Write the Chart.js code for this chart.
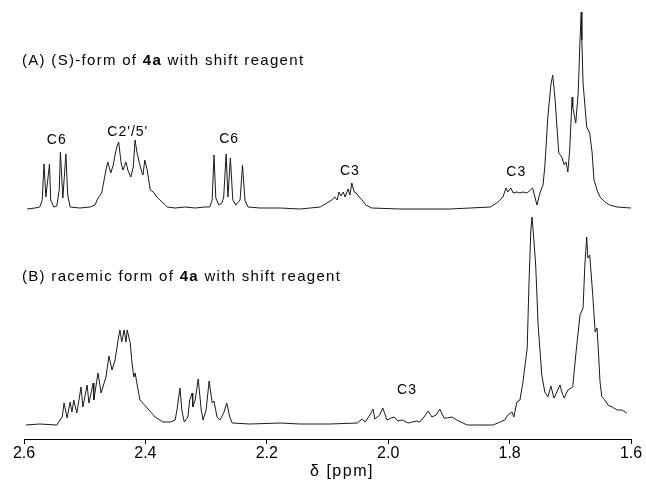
<!DOCTYPE html>
<html lang="en">
<head>
  <meta charset="UTF-8">
  <title>1H NMR with shift reagent</title>
  <script src="https://cdn.jsdelivr.net/npm/chart.js"></script>
  <style>
    body { margin: 0; background: #fff; }
    #wrap { width: 646px; height: 483px; }
  </style>
</head>
<body>
<div id="wrap"><canvas id="nmr" width="646" height="483"></canvas></div>

<script>
  // (A) (S)-form trace: chemical shift (ppm) and intensity
  const ppmA = [2.595, 2.582, 2.574, 2.570, 2.567, 2.564, 2.558, 2.556, 2.551, 2.546, 2.542, 2.540, 2.536, 2.531, 2.528, 2.524,
    2.508, 2.491, 2.483, 2.478, 2.472, 2.465, 2.462, 2.457, 2.453, 2.450, 2.447, 2.444, 2.440, 2.437, 2.432, 2.429, 2.424,
    2.420, 2.417, 2.414, 2.409, 2.406, 2.404, 2.401, 2.397, 2.392, 2.387, 2.381, 2.376, 2.364, 2.351, 2.335, 2.318, 2.302,
    2.294, 2.290, 2.287, 2.284, 2.279, 2.274, 2.271, 2.267, 2.264, 2.260, 2.256, 2.251, 2.244, 2.240, 2.236, 2.231, 2.211,
    2.178, 2.145, 2.112, 2.101, 2.093, 2.088, 2.084, 2.081, 2.078, 2.074, 2.071, 2.066, 2.063, 2.060, 2.056, 2.053, 2.048,
    2.043, 2.037, 2.027, 1.981, 1.898, 1.832, 1.821, 1.811, 1.806, 1.803, 1.798, 1.794, 1.788, 1.783, 1.778, 1.771, 1.766,
    1.762, 1.755, 1.750, 1.747, 1.745, 1.742, 1.737, 1.732, 1.729, 1.725, 1.722, 1.719, 1.714, 1.710, 1.707, 1.704, 1.701,
    1.697, 1.696, 1.691, 1.687, 1.684, 1.682, 1.681, 1.679, 1.673, 1.668, 1.664, 1.661, 1.656, 1.651, 1.643, 1.635, 1.623, 1.600];
  const intA = [0, 1, 2, 9, 45, 12, 45, 9, 2, 3, 19, 57, 11, 55, 14, 2,
    1, 2, 4, 11, 16, 39, 47, 36, 44, 54, 62, 67, 46, 39, 47, 39, 32,
    42, 69, 57, 44, 37, 34, 49, 39, 19, 17, 12, 9, 2, 1, 2, 1, 2,
    2, 9, 54, 11, 4, 6, 12, 55, 12, 51, 9, 4, 9, 44, 9, 2, 1,
    1, 0, 2, 6, 9, 12, 9, 17, 13, 17, 12, 20, 14, 26, 17, 16, 12,
    9, 4, 1, 0, 0, 2, 6, 12, 21, 17, 21, 16, 17, 16, 17, 16, 19,
    21, 4, 16, 21, 24, 42, 92, 124, 134, 109, 82, 56, 52, 44, 47, 37, 59,
    112, 102, 86, 116, 169, 197, 169, 126, 82, 76, 56, 29, 19, 12, 7, 4, 2, 1];

  // (B) racemic trace
  const ppmB = [2.597, 2.574, 2.546, 2.537, 2.534, 2.529, 2.524, 2.521, 2.518, 2.513, 2.506, 2.503, 2.496, 2.493, 2.486, 2.485,
    2.478, 2.473, 2.465, 2.460, 2.455, 2.450, 2.445, 2.442, 2.439, 2.435, 2.432, 2.430, 2.425, 2.422, 2.419, 2.417, 2.414,
    2.409, 2.397, 2.384, 2.371, 2.359, 2.351, 2.348, 2.343, 2.340, 2.336, 2.330, 2.327, 2.323, 2.322, 2.318, 2.313, 2.308,
    2.305, 2.300, 2.295, 2.290, 2.287, 2.282, 2.277, 2.271, 2.266, 2.261, 2.257, 2.228, 2.178, 2.145, 2.096, 2.051, 2.043,
    2.038, 2.030, 2.025, 2.022, 2.014, 2.009, 2.002, 1.995, 1.990, 1.984, 1.977, 1.967, 1.953, 1.948, 1.941, 1.934, 1.928,
    1.921, 1.915, 1.908, 1.902, 1.895, 1.887, 1.870, 1.849, 1.827, 1.816, 1.808, 1.803, 1.796, 1.793, 1.788, 1.783, 1.778,
    1.771, 1.768, 1.765, 1.763, 1.762, 1.760, 1.757, 1.753, 1.747, 1.742, 1.737, 1.732, 1.727, 1.722, 1.717, 1.714, 1.710,
    1.704, 1.696, 1.691, 1.684, 1.679, 1.676, 1.673, 1.671, 1.668, 1.663, 1.659, 1.656, 1.654, 1.651, 1.648, 1.643, 1.638,
    1.631, 1.623, 1.615, 1.607];
  const intB = [0, 1, 0, 8, 22, 7, 23, 13, 25, 12, 38, 18, 40, 22, 42, 25,
    52, 32, 48, 69, 55, 65, 85, 95, 83, 95, 83, 95, 82, 62, 48, 52, 42,
    25, 17, 8, 3, 3, 5, 15, 37, 15, 3, 8, 25, 32, 18, 25, 46, 15,
    5, 15, 44, 22, 24, 8, 5, 12, 22, 8, 2, 1, 2, 1, 1, 2, 6,
    3, 10, 16, 6, 10, 17, 5, 7, 8, 4, 5, 2, 4, 3, 8, 14, 8,
    10, 16, 7, 7, 8, 5, 0, 0, 0, 3, 5, 10, 13, 8, 23, 25, 43,
    77, 143, 195, 208, 208, 185, 160, 100, 50, 33, 28, 39, 27, 33, 40, 33, 27,
    35, 38, 70, 110, 117, 160, 188, 167, 170, 130, 93, 97, 77, 43, 28, 25, 20,
    18, 15, 15, 12];

  const xTicks = [2.6, 2.4, 2.2, 2.0, 1.8, 1.6];
  const offsetA = 216;   // trace A is stacked above trace B

  const peakLabels = [
    { text: 'C6', ppm: 2.546, y: 285 },
    { text: "C2'/5'", ppm: 2.429, y: 293 },
    { text: 'C6', ppm: 2.262, y: 286 },
    { text: 'C3', ppm: 2.063, y: 254 },
    { text: 'C3', ppm: 1.789, y: 253 },
    { text: 'C3', ppm: 1.969, y: 35 }
  ];

  const FONT = 'Arial, "Liberation Sans", sans-serif';

  function drawRich(ctx, parts, x, y) {
    parts.forEach(p => {
      ctx.font = (p.bold ? 'bold ' : '') + '15px ' + FONT;
      ctx.fillText(p.t, x, y);
      x += ctx.measureText(p.t).width;
    });
  }

  const textPlugin = {
    id: 'nmrText',
    afterDraw(chart) {
      const ctx = chart.ctx;
      const xs = chart.scales.x, ys = chart.scales.y;
      ctx.save();
      ctx.fillStyle = '#000';
      ctx.textBaseline = 'middle';
      ctx.textAlign = 'left';
      ctx.letterSpacing = '1.3px';
      drawRich(ctx, [{ t: '(A) (S)-form of ' }, { t: '4a', bold: true }, { t: ' with shift reagent' }], 22, 61);
      drawRich(ctx, [{ t: '(B) racemic form of ' }, { t: '4a', bold: true }, { t: ' with shift reagent' }], 22, 277);

      ctx.textAlign = 'center';
      ctx.letterSpacing = '1px';
      ctx.font = '14px ' + FONT;
      peakLabels.forEach(l => {
        ctx.fillText(l.text, xs.getPixelForValue(l.ppm), ys.getPixelForValue(l.y));
      });
      ctx.letterSpacing = '1.5px';
      ctx.font = '16px ' + FONT;
      ctx.fillText('\u03b4 [ppm]', 342, 472);
      ctx.restore();
    }
  };

  new Chart(document.getElementById('nmr'), {
    type: 'line',
    data: {
      datasets: [
        {
          data: ppmA.map((p, i) => ({ x: p, y: intA[i] + offsetA })),
          borderColor: '#1a1a1a',
          borderWidth: 1,
          pointRadius: 0,
          tension: 0
        },
        {
          data: ppmB.map((p, i) => ({ x: p, y: intB[i] })),
          borderColor: '#1a1a1a',
          borderWidth: 1,
          pointRadius: 0,
          tension: 0
        }
      ]
    },
    options: {
      responsive: false,
      animation: false,
      layout: { padding: { left: 24, right: 15, top: 0, bottom: 0 } },
      plugins: { legend: { display: false }, tooltip: { enabled: false } },
      scales: {
        x: {
          type: 'linear',
          reverse: true,
          min: 1.6,
          max: 2.6,
          afterBuildTicks: s => { s.ticks = xTicks.map(v => ({ value: v })); },
          afterFit: s => { s.height = 44; },
          ticks: {
            color: '#000',
            padding: 0,
            maxRotation: 0,
            font: { family: FONT, size: 16 },
            callback: v => Number(v).toFixed(1)
          },
          grid: { drawOnChartArea: false, color: '#000', tickLength: 5 },
          border: { color: '#000', width: 1 }
        },
        y: {
          display: false,
          min: -14,
          max: 425
        }
      }
    },
    plugins: [textPlugin]
  });
</script>
</body>
</html>
